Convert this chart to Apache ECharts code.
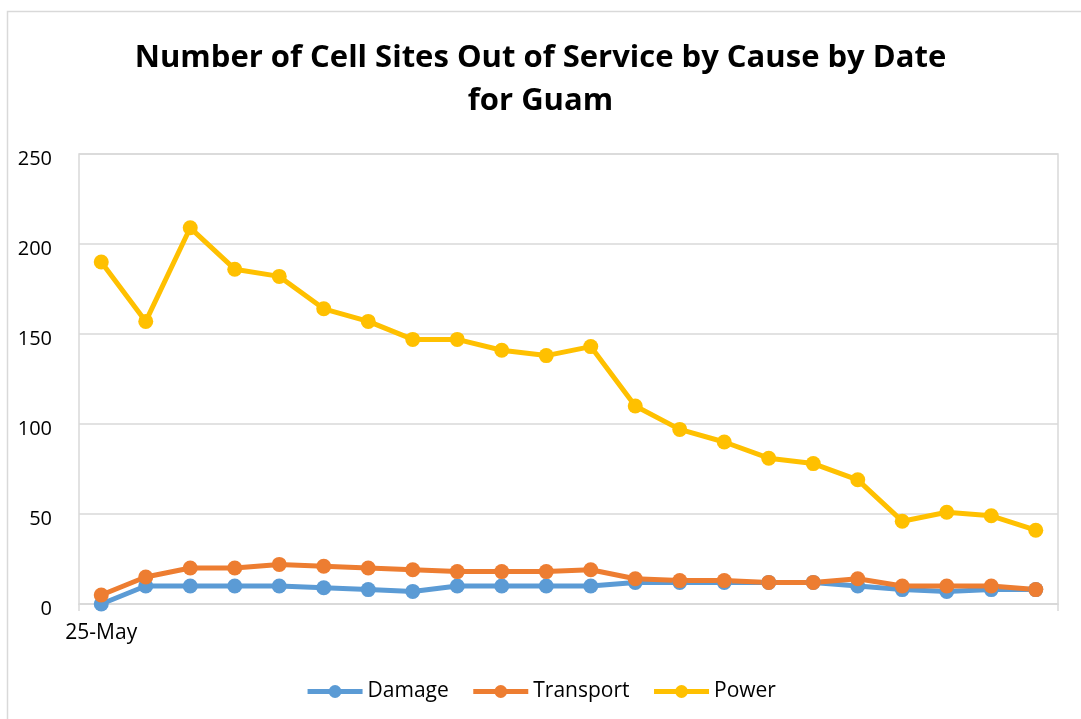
<!DOCTYPE html>
<html>
<head>
<meta charset="utf-8">
<script src="https://cdn.jsdelivr.net/npm/echarts@6/dist/echarts.min.js"></script>
<style>
html,body{margin:0;padding:0;background:#fff;}
#chart{width:1081px;height:719px;}
</style>
</head>
<body>
<div id="chart"></div>
<script>
const categories = ['25-May','26-May','27-May','28-May','29-May','30-May','31-May','1-Jun','2-Jun','3-Jun','4-Jun','5-Jun','6-Jun','7-Jun','8-Jun','9-Jun','10-Jun','11-Jun','12-Jun','13-Jun','14-Jun','15-Jun'];
const damage    = [0, 10, 10, 10, 10, 9, 8, 7, 10, 10, 10, 10, 12, 12, 12, 12, 12, 10, 8, 7, 8, 8];
const transport = [5, 15, 20, 20, 22, 21, 20, 19, 18, 18, 18, 19, 14, 13, 13, 12, 12, 14, 10, 10, 10, 8];
const power     = [190, 157, 209, 186, 182, 164, 157, 147, 147, 141, 138, 143, 110, 97, 90, 81, 78, 69, 46, 51, 49, 41];
const yTicks = { min: 0, max: 250, interval: 50 };
const titleLines = ['Number of Cell Sites Out of Service by Cause by Date', 'for Guam'];

const FONT = '"Open Sans", Lato, sans-serif';
const chart = echarts.init(document.getElementById('chart'), null, {renderer: 'canvas'});

function lineSeries(name, data, color) {
  return {
    name, type: 'line', data,
    symbol: 'circle', symbolSize: 15,
    lineStyle: { color, width: 5 },
    itemStyle: { color },
    emphasis: { disabled: true },
    animation: false
  };
}

const titleStyle = { fontFamily: FONT, fontWeight: 'bold', fontSize: 31, lineHeight: 42, color: '#000' };

chart.setOption({
  backgroundColor: '#fff',
  animation: false,
  graphic: [{
    type: 'rect', silent: true, z: -1,
    shape: { x: 7.5, y: 11.5, width: 1100, height: 800 },
    style: { fill: 'none', stroke: '#d9d9d9', lineWidth: 1.5 }
  }],
  title: [
    { text: titleLines[0], left: 'center', top: 37, padding: 0, textStyle: titleStyle },
    { text: titleLines[1], left: 'center', top: 80, padding: 0, textStyle: titleStyle }
  ],
  legend: {
    bottom: 12, left: 'center',
    itemWidth: 55, itemHeight: 16, itemGap: 22,
    lineStyle: { width: 5 },
    textStyle: { fontFamily: FONT, fontSize: 21, color: '#000' },
    data: ['Damage', 'Transport', 'Power']
  },
  grid: { left: 79, right: 23, top: 154, bottom: 115, show: true, borderColor: '#d9d9d9', borderWidth: 1.5 },
  xAxis: {
    type: 'category', data: categories, boundaryGap: true,
    axisLine: { lineStyle: { color: '#d9d9d9', width: 1.5 } },
    axisTick: { show: true, interval: (i) => i === 0, length: 7, lineStyle: { color: '#d9d9d9', width: 1.5 } },
    axisLabel: { interval: (i) => i === 0, fontFamily: FONT, fontSize: 21, color: '#000', margin: 19 },
    splitLine: { show: false }
  },
  yAxis: {
    type: 'value', min: yTicks.min, max: yTicks.max, interval: yTicks.interval,
    axisLine: { show: false },
    axisTick: { show: false },
    axisLabel: { fontFamily: FONT, fontSize: 20, color: '#000', margin: 27, verticalAlign: 'top', lineHeight: 10 },
    splitLine: { lineStyle: { color: '#d9d9d9', width: 1.5 } }
  },
  series: [
    lineSeries('Damage', damage, '#5B9BD5'),
    lineSeries('Transport', transport, '#ED7D31'),
    lineSeries('Power', power, '#FFC000')
  ]
});
</script>
</body>
</html>
